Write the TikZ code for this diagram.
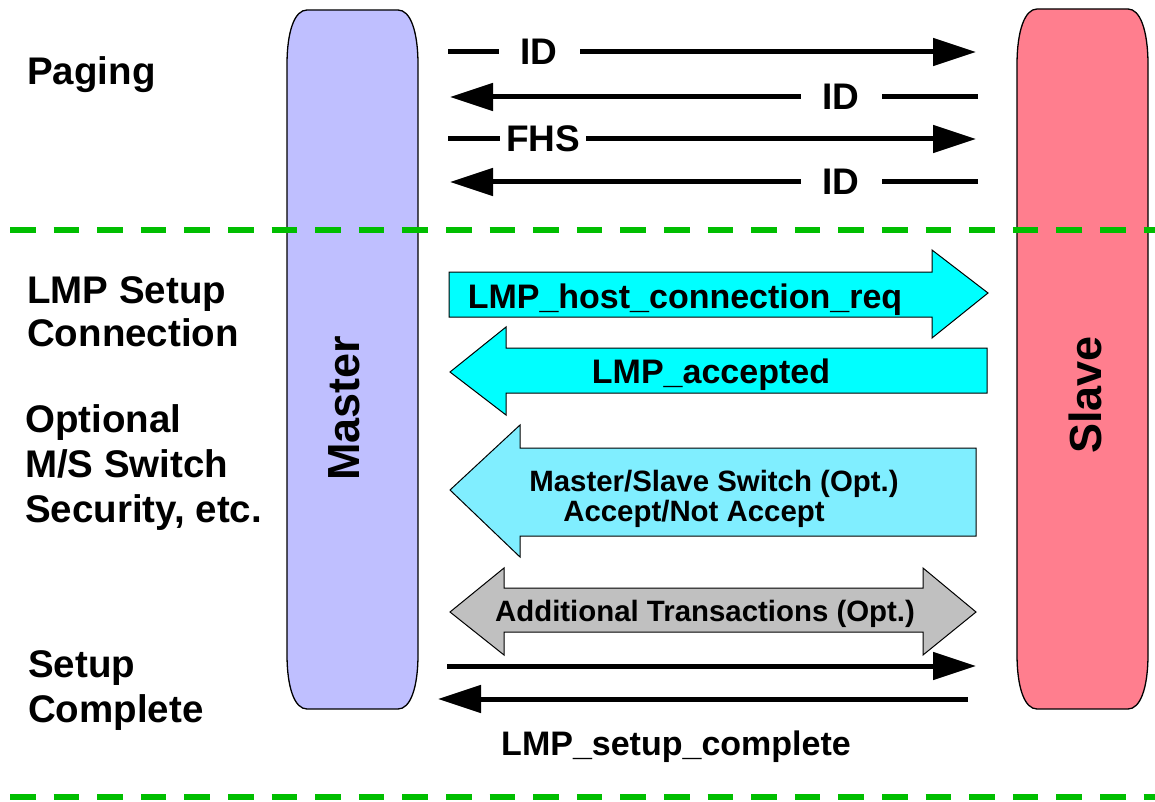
\documentclass[tikz,border=0pt]{standalone}
\usepackage{fontspec}
\setmainfont{Liberation Sans}
\usetikzlibrary{arrows.meta}
\definecolor{masterc}{RGB}{191,191,255}
\definecolor{slavec}{RGB}{255,126,142}
\definecolor{cyanc}{RGB}{0,255,255}
\definecolor{lcyan}{RGB}{128,238,255}
\definecolor{grayc}{RGB}{192,192,192}
\definecolor{greenc}{RGB}{0,190,0}
\tikzset{
  bar/.style={draw=black, line width=1.3pt},
  sepline/.style={greenc, line width=5.5pt, dash pattern=on 25.5pt off 18.1pt},
  msg/.style={line width=5pt, -{Triangle[length=43pt,width=27pt]}},
  gaplbl/.style={fill=white, font=\fontsize{37}{37}\bfseries, inner ysep=1pt, inner xsep=#1},
  blk/.style={draw=black, line width=1pt},
  side/.style={font=\fontsize{38.5}{44}\bfseries, anchor=base west, inner sep=0pt},
  blktxt/.style={font=\fontsize{34}{34}\bfseries, anchor=base, inner sep=0pt},
  smalltxt/.style={font=\fontsize{29.4}{29.4}\bfseries, anchor=base, inner sep=0pt},
  bartxt/.style={font=\fontsize{45}{45}\bfseries, rotate=90, inner sep=0pt}
}
\begin{document}
\begin{tikzpicture}[x=1pt,y=-1pt]
\useasboundingbox (0,0) rectangle (1155,802);
% bars
\draw[bar, fill=masterc] (287,65) .. controls (287,30) and (295,10) .. (307,10) -- (398,10) .. controls (410,10) and (418,30) .. (418,65) -- (418,654) .. controls (418,689) and (410,709) .. (398,709) -- (307,709) .. controls (295,709) and (287,689) .. (287,654) -- cycle;
\draw[bar, fill=slavec] (1017,65) .. controls (1017,30) and (1025,9) .. (1037,9) -- (1128,9) .. controls (1140,9) and (1148,30) .. (1148,65) -- (1148,654) .. controls (1148,689) and (1140,709) .. (1128,709) -- (1037,709) .. controls (1025,709) and (1017,689) .. (1017,654) -- cycle;
\node[bartxt] (master) at (344,408) {Master};
\node[bartxt] (slave) at (1085,395) {Slave};
% separators
\coordinate (s1a) at (10,230); \coordinate (s1b) at (1160,230);
\coordinate (s2a) at (10,797); \coordinate (s2b) at (1160,797);
\draw[sepline] (s1a) -- (s1b);
\draw[sepline] (s2a) -- (s2b);
% left labels
\node[side] (pag) at (27,85) {Paging};
\node[side] (lmp1) at (27,303) {LMP Setup};
\node[side] (lmp2) at (27,346) {Connection};
\node[side] (opt1) at (25,432) {Optional};
\node[side] (opt2) at (25,477) {M/S Switch};
\node[side] (opt3) at (25,522) {Security, etc.};
\node[side] (set1) at (28,677) {Setup};
\node[side] (set2) at (28,722) {Complete};
% paging arrows
\coordinate (p1a) at (448,52);  \coordinate (p1b) at (976,52);
\coordinate (p2a) at (978,97);  \coordinate (p2b) at (450,97);
\coordinate (p3a) at (448,139); \coordinate (p3b) at (976,139);
\coordinate (p4a) at (978,182); \coordinate (p4b) at (450,182);
\draw[msg] (p1a) -- (p1b);
\draw[msg] (p2a) -- (p2b);
\draw[msg] (p3a) -- (p3b);
\draw[msg] (p4a) -- (p4b);
\node[gaplbl=22pt] (id1) at (539,52) {ID};
\node[gaplbl=22pt] (id2) at (841,97) {ID};
\node[gaplbl=6pt] (fhs) at (543,139) {FHS};
\node[gaplbl=22pt] (id3) at (841,182) {ID};
% block arrows
\draw[blk, fill=cyanc] (449,272) -- (932,272) -- (932,250) -- (988,293) -- (932,338) -- (932,317) -- (449,317) -- cycle;
\node[blktxt] (hostreq) at (685,308) {LMP\_host\_connection\_req};
\draw[blk, fill=cyanc] (987,348) -- (506,348) -- (506,327) -- (450,372) -- (506,415) -- (506,393) -- (987,393) -- cycle;
\node[blktxt] (acc) at (711,383) {LMP\_accepted};
\draw[blk, fill=lcyan] (976,448) -- (520,448) -- (520,425) -- (450,490) -- (520,557) -- (520,536) -- (976,536) -- cycle;
\node[smalltxt] (ms1) at (714,491) {Master/Slave Switch (Opt.)};
\node[smalltxt] (ms2) at (694,521) {Accept/Not Accept};
\draw[blk, fill=grayc] (450,612) -- (504,568) -- (504,588) -- (923,588) -- (923,568) -- (976,612) -- (923,655) -- (923,632) -- (504,632) -- (504,655) -- cycle;
\node[smalltxt] (addt) at (705,621) {Additional Transactions (Opt.)};
% setup complete arrows
\coordinate (c1a) at (447,666); \coordinate (c1b) at (976,666);
\coordinate (c2a) at (968,699); \coordinate (c2b) at (438,699);
\draw[msg] (c1a) -- (c1b);
\draw[msg] (c2a) -- (c2b);
\node[blktxt] (setupc) at (676,755) {LMP\_setup\_complete};
\end{tikzpicture}
\end{document}
